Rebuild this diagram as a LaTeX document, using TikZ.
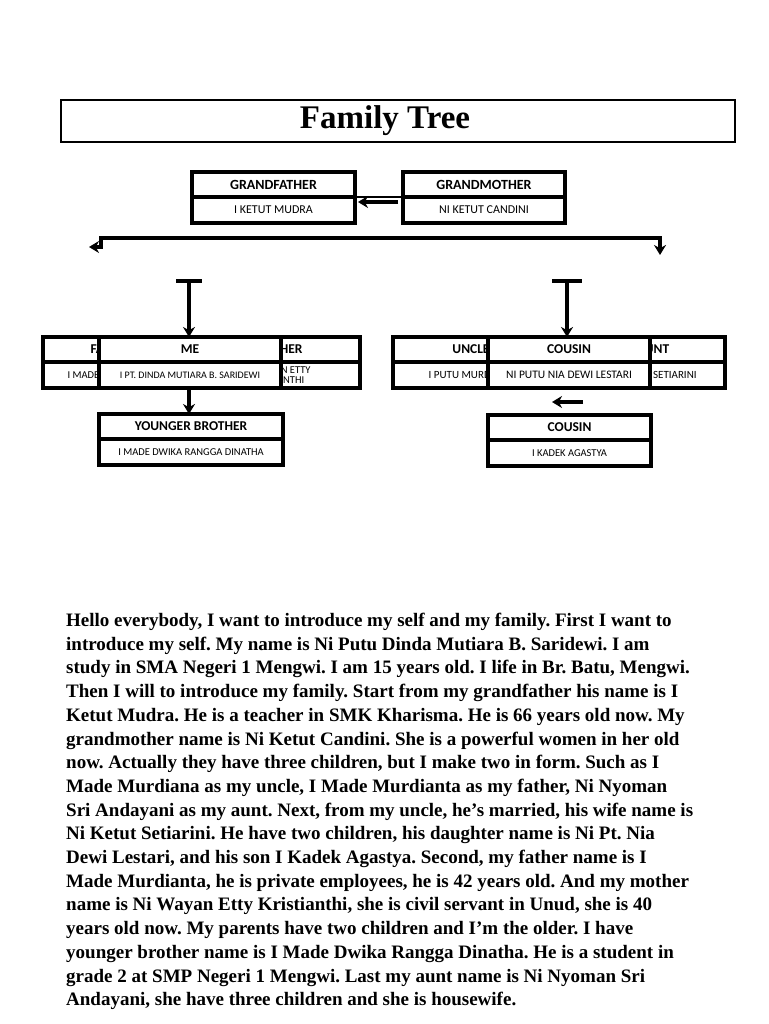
\documentclass[tikz,border=0pt]{standalone}
\usepackage{fontspec}
\usetikzlibrary{positioning,arrows.meta}
\newfontfamily\bodyfont{Liberation Serif}
\newfontfamily\boxfont{Carlito}

\begin{document}
\begin{tikzpicture}[x=1pt, y=-1pt,
    caja/.style={draw, rectangle, line width=3.6pt, outer sep=0pt, inner sep=1pt, fill=white},
    cabeza/.style={caja, minimum height=25pt, font=\boxfont\bfseries\fontsize{13.5}{15}\selectfont},
    nombre/.style={caja, minimum height=26pt, font=\boxfont\fontsize{10.5}{11}\selectfont},
    flecha/.style={line width=3.4pt, -{Stealth[length=10pt, width=12pt]}}]
    \useasboundingbox (0,0) rectangle (768,1024);
    % Titulo
    \node[draw, line width=2.6pt, minimum width=674pt, minimum height=42pt, font=\bodyfont\bfseries\fontsize{33}{36}\selectfont] (titulo) at (398,121) {Family Tree\kern26pt};

    % Abuelos
    \node[cabeza, minimum width=163pt, font=\boxfont\bfseries\fontsize{14}{15}\selectfont] (gfh) at (273.5,184.5) {GRANDFATHER};
    \node[nombre, minimum width=163pt, below=0pt of gfh, font=\boxfont\fontsize{12}{13}\selectfont] (gfn) {I KETUT MUDRA};
    \node[cabeza, minimum width=162pt, font=\boxfont\bfseries\fontsize{14}{15}\selectfont] (gmh) at (484,184.5) {GRANDMOTHER};
    \node[nombre, minimum width=162pt, below=0pt of gmh, font=\boxfont\fontsize{12}{13}\selectfont] (gmn) {NI KETUT CANDINI};

    % Hijos (izquierda)
    \node[cabeza, minimum width=137pt] (fah) at (111.5,349.5) {FATHER};
    \node[nombre, minimum width=137pt, below=0pt of fah] (fan) {I MADE MURDIANTA};
    \node[cabeza, minimum width=165pt] (moh) at (277.5,349.5) {MOTHER};
    \node[nombre, minimum width=165pt, below=0pt of moh, align=center, font=\boxfont\fontsize{10.5}{10.5}\selectfont] (mon) {NI WAYAN ETTY\\KRISTIANTHI};
    \node[cabeza, minimum width=182pt] (meh) at (190,349.5) {ME};
    \node[nombre, minimum width=182pt, below=0pt of meh, font=\boxfont\fontsize{10}{11}\selectfont] (men) {I PT. DINDA MUTIARA B. SARIDEWI};
    \node[cabeza, minimum width=184pt] (brh) at (191,426.5) {YOUNGER BROTHER};
    \node[nombre, minimum width=184pt, below=0pt of brh] (brn) {I MADE DWIKA RANGGA DINATHA};

    % Hijos (derecha)
    \node[cabeza, minimum width=156pt] (unh) at (471,349.5) {UNCLE};
    \node[nombre, minimum width=156pt, below=0pt of unh, font=\boxfont\fontsize{11}{12}\selectfont] (unn) {I PUTU MURDIANA};
    \node[cabeza, minimum width=144pt] (auh) at (653,349.5) {AUNT};
    \node[nombre, minimum width=144pt, below=0pt of auh, font=\boxfont\fontsize{11}{12}\selectfont] (aun) {NI KETUT SETIARINI};
    \node[cabeza, minimum width=162pt] (c1h) at (569,349.5) {COUSIN};
    \node[nombre, minimum width=162pt, below=0pt of c1h, font=\boxfont\fontsize{11.5}{12}\selectfont] (c1n) {NI PUTU NIA DEWI LESTARI};
    \node[cabeza, minimum width=163pt] (c2h) at (569.5,427.5) {COUSIN};
    \node[nombre, minimum width=163pt, below=0pt of c2h] (c2n) {I KADEK AGASTYA};

    % Puntos
    \coordinate (barL) at (101,238);
    \coordinate (barR) at (660,238);
    \coordinate (arrL) at (89,247);
    \coordinate (arrR) at (660,255);
    \coordinate (tL) at (189,281);
    \coordinate (tR) at (567,281);
    \coordinate (sibA) at (583,402);
    \coordinate (sibB) at (552,402);

    % Lineas
    \draw[line width=2.6pt] (gfh.south east) -- (gmh.south west);
    \draw[flecha] ([xshift=-5pt, yshift=8pt]gmn.west) -- ([xshift=3pt, yshift=8pt]gfn.east);
    \draw[line width=3.4pt, {Stealth[length=10pt, width=12pt]}-{Stealth[length=10pt, width=12pt]}] (arrL) -| (barL) -- (barR) -- (arrR);
    \draw[line width=3.4pt] ([xshift=-13pt]tL) -- ([xshift=13pt]tL);
    \draw[flecha] (tL) -- (tL |- meh.north);
    \draw[line width=3.4pt] ([xshift=-15pt]tR) -- ([xshift=15pt]tR);
    \draw[flecha] (tR) -- (tR |- c1h.north);
    \draw[flecha] (tL |- men.south) -- (tL |- brh.north);
    \draw[flecha] (sibA) -- (sibB);

    % Texto
    \node[anchor=north west, inner sep=0pt, align=left, font=\bodyfont\bfseries\frenchspacing\fontsize{19}{23.7}\selectfont] (texto) at (66,613) {Hello everybody, I want to introduce my self and my family. First I want to\\
introduce my self. My name is Ni Putu Dinda Mutiara B. Saridewi. I am\\
study in SMA Negeri 1 Mengwi. I am 15 years old. I life in Br. Batu, Mengwi.\\
Then I will to introduce my family. Start from my grandfather his name is I\\
Ketut Mudra. He is a teacher in SMK Kharisma. He is 66 years old now. My\\
grandmother name is Ni Ketut Candini. She is a powerful women in her old\\
now. Actually they have three children, but I make two in form. Such as I\\
Made Murdiana as my uncle, I Made Murdianta as my father, Ni Nyoman\\
Sri Andayani as my aunt. Next, from my uncle, he’s married, his wife name is\\
Ni Ketut Setiarini. He have two children, his daughter name is Ni Pt. Nia\\
Dewi Lestari, and his son I Kadek Agastya. Second, my father name is I\\
Made Murdianta, he is private employees, he is 42 years old. And my mother\\
name is Ni Wayan Etty Kristianthi, she is civil servant in Unud, she is 40\\
years old now. My parents have two children and I’m the older. I have\\
younger brother name is I Made Dwika Rangga Dinatha. He is a student in\\
grade 2 at SMP Negeri 1 Mengwi. Last my aunt name is Ni Nyoman Sri\\
Andayani, she have three children and she is housewife.};
\end{tikzpicture}
\end{document}
